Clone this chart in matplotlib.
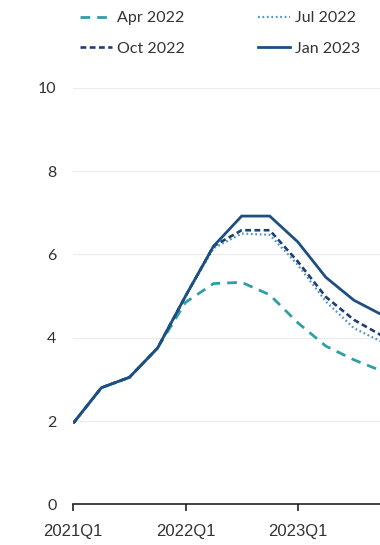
import matplotlib
matplotlib.use("Agg")
import matplotlib.pyplot as plt
from matplotlib.lines import Line2D

# Quarterly path, 2021Q1 onward
quarters = ["2021Q1", "2021Q2", "2021Q3", "2021Q4",
            "2022Q1", "2022Q2", "2022Q3", "2022Q4",
            "2023Q1", "2023Q2", "2023Q3", "2023Q4"]

apr_2022 = [1.95, 2.80, 3.05, 3.75, 4.85, 5.30, 5.33, 5.03, 4.36, 3.80, 3.47, 3.20]
jul_2022 = [1.95, 2.80, 3.05, 3.75, 5.00, 6.15, 6.50, 6.47, 5.75, 4.87, 4.23, 3.90]
oct_2022 = [1.95, 2.80, 3.05, 3.75, 5.00, 6.20, 6.58, 6.58, 5.83, 4.98, 4.43, 4.05]
jan_2023 = [1.95, 2.80, 3.05, 3.75, 5.00, 6.20, 6.92, 6.92, 6.30, 5.45, 4.90, 4.55]

series_names = ["Apr 2022", "Jul 2022", "Oct 2022", "Jan 2023"]
y_ticks = [0, 2, 4, 6, 8, 10]
x_tick_labels = ["2021Q1", "2022Q1", "2023Q1"]

colors = {
    "Apr 2022": "#2f9fa6",
    "Jul 2022": "#4f97c9",
    "Oct 2022": "#1e3f73",
    "Jan 2023": "#1d4f84",
}
styles = {
    "Apr 2022": dict(linestyle=(0, (3.5, 2.5)), linewidth=2.0),
    "Jul 2022": dict(linestyle=(0, (0.8, 1.2)), linewidth=1.6),
    "Oct 2022": dict(linestyle=(0, (2.2, 1.3)), linewidth=1.9),
    "Jan 2023": dict(linestyle="-", linewidth=2.0),
}
values = {"Apr 2022": apr_2022, "Jul 2022": jul_2022,
          "Oct 2022": oct_2022, "Jan 2023": jan_2023}

fig = plt.figure(figsize=(3.8, 5.45), dpi=100)
ax = fig.add_axes([0.1929, 0.0745, 0.8071, 0.7645])

x = list(range(len(quarters)))
for name in series_names:
    ax.plot(x, values[name], color=colors[name], label=name,
            solid_capstyle="butt", dash_capstyle="butt", **styles[name])

ax.set_xlim(0, 10.93)
ax.set_ylim(0, 10)
ax.set_yticks(y_ticks)
ax.set_yticklabels([str(v) for v in y_ticks], fontfamily="Lato", fontsize=11.5,
                   color="#333333")
ax.set_xticks([quarters.index(q) for q in x_tick_labels])
ax.set_xticklabels(x_tick_labels, fontfamily="Liberation Sans", fontsize=12,
                   color="#333333")

ax.tick_params(axis="y", length=0, pad=12)
ax.tick_params(axis="x", length=5, width=1.2, color="#222222", pad=9, direction="out")

for side in ["top", "right", "left"]:
    ax.spines[side].set_visible(False)
ax.spines["bottom"].set_color("#222222")
ax.spines["bottom"].set_linewidth(1.2)

ax.grid(axis="y", color="#ececec", linewidth=0.8)
ax.set_axisbelow(True)

# legend fills column-wise: Apr/Oct in the first column, Jul/Jan in the second
legend_order = ["Apr 2022", "Oct 2022", "Jul 2022", "Jan 2023"]
handles = [Line2D([], [], color=colors[n], **styles[n]) for n in legend_order]
fig.legend(handles, legend_order, ncol=2, loc="upper left",
           bbox_to_anchor=(0.19, 0.994), frameon=False, borderpad=0,
           prop={"family": "Lato", "size": 11.5},
           handlelength=2.0, handletextpad=0.3, columnspacing=4.6,
           labelspacing=1.0, labelcolor="#333333")

fig.savefig("out.png", dpi=100)
